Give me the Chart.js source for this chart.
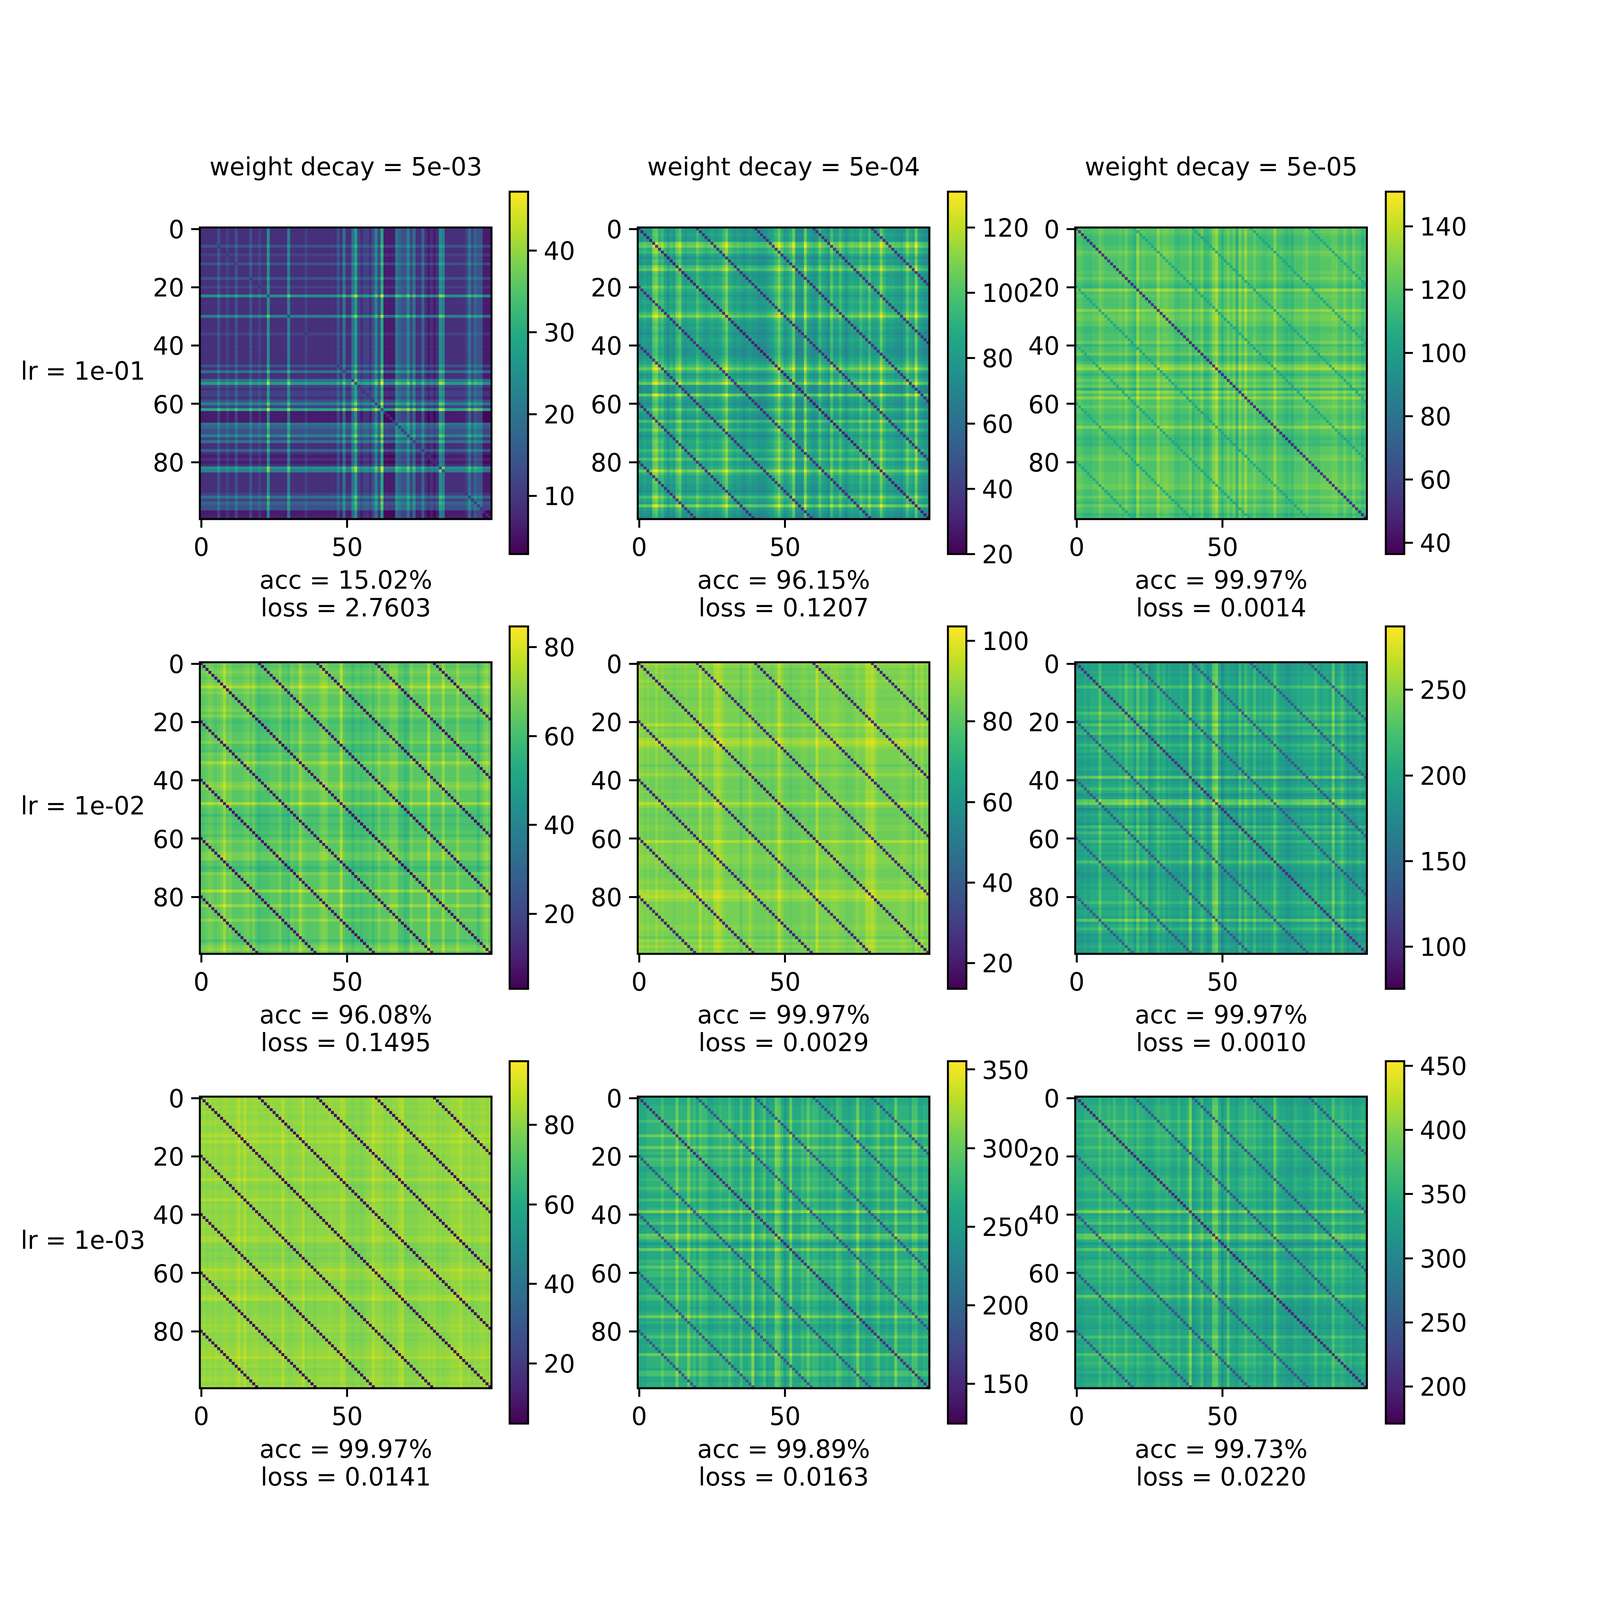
<!DOCTYPE html>
<html>
<head>
<meta charset="utf-8">
<script src="https://cdn.jsdelivr.net/npm/chart.js@4"></script>
<style>
html, body { margin: 0; padding: 0; background: #fff; width: 100%; height: 100%; overflow: hidden; }
canvas { position: absolute; }
.label { position: absolute; font-family: "DejaVu Sans"; line-height: 1; color: #000; white-space: pre; transform: translate(-50%, -50%); }
</style>
</head>
<body>
<script>
// cell levels per class (0 = dim, 9 = bright).
// the individual cells are too many to read one by one, so a cell = base + scale * (row level + column level)
const levels00 = [1,1,1,1,1,1,3,1,1,2, 1,1,3,1,1,1,1,3,1,1, 2,1,1,7,1,1,1,1,1,1, 6,1,1,1,1,1,2,1,1,1, 1,1,1,1,1,1,1,3,1,5, 1,1,5,8,2,1,2,2,1,3, 6,2,9,0,0,0,0,5,4,3, 3,6,2,5,1,1,4,1,0,1, 0,1,7,6,1,1,1,1,1,1, 1,2,5,2,4,3,3,0,0,0];
const levels01 = [2,2,3,2,2,8,9,5,6,3, 1,3,2,6,8,3,2,3,3,3, 6,4,3,2,3,4,3,3,4,6, 9,4,3,2,3,2,1,2,3,2, 2,1,1,1,2,3,4,6,9,5, 2,3,5,9,1,1,1,9,3,2, 1,2,6,3,2,1,7,3,3,6, 3,1,3,4,3,3,6,4,3,7, 3,3,4,9,5,3,3,3,2,2, 1,3,7,4,3,9,3,2,1,0];
const levels02 = [4,5,4,3,3,3,4,4,6,5, 4,4,4,4,4,5,4,6,4,3, 2,8,4,5,4,4,4,4,8,5, 6,6,5,5,3,3,4,4,4,6, 2,4,4,6,2,2,4,7,9,4, 2,4,6,4,6,1,7,4,8,4, 4,6,4,4,3,3,4,4,8,4, 4,3,2,3,2,4,4,4,5,6, 4,4,4,4,5,5,5,5,6,6, 4,4,6,4,3,6,4,4,2,3];
const levels10 = [4,4,5,6,5,4,5,6,9,5, 6,4,4,4,4,5,6,4,6,3, 2,3,3,3,4,4,4,6,3,3, 2,5,4,4,8,5,4,4,4,4, 4,6,7,6,4,4,4,4,9,4, 3,3,1,3,3,2,3,3,4,2, 4,6,4,4,4,6,6,6,3,3, 1,2,6,4,4,4,4,4,9,4, 4,4,4,8,4,4,4,4,7,4, 4,4,4,4,4,2,4,6,7,4];
const levels11 = [6,5,4,5,4,4,6,4,5,4, 4,4,3,4,4,4,5,4,4,4, 4,8,4,5,4,4,7,8,7,5, 4,4,4,4,4,2,4,4,6,4, 3,3,3,3,4,3,3,4,8,5, 3,3,2,3,3,3,4,4,3,3, 3,8,4,4,4,4,5,5,5,4, 4,3,3,3,4,5,4,4,7,7, 8,6,4,4,4,4,4,4,4,4, 5,5,4,4,2,6,4,6,4,4];
const levels12 = [3,3,3,4,3,4,4,4,7,4, 4,4,4,4,4,5,4,7,5,5, 3,7,4,5,6,2,3,4,6,4, 5,3,4,3,3,3,4,3,3,8, 2,3,4,6,4,2,3,8,9,4, 1,3,4,3,3,2,6,3,6,4, 3,6,3,4,3,4,3,4,7,4, 3,3,2,2,3,3,4,3,4,4, 4,4,6,4,3,4,4,3,8,3, 4,6,4,2,3,2,3,4,3,3];
const levels20 = [4,5,4,5,4,5,4,4,5,5, 4,4,5,7,4,7,4,4,5,5, 4,4,4,4,5,4,4,4,7,4, 3,3,4,4,4,7,3,4,4,3, 4,4,4,4,5,4,4,4,6,6, 3,3,2,3,3,2,3,4,4,7, 5,5,5,3,4,3,4,4,6,7, 3,3,3,3,3,4,4,4,5,4, 5,3,4,3,4,4,5,5,5,7, 4,4,5,3,4,4,5,5,4,5];
const levels21 = [3,3,3,4,4,4,4,4,6,4, 4,4,4,8,4,4,4,8,4,5, 3,6,5,5,3,3,4,4,5,4, 4,6,4,3,3,6,3,3,4,9, 2,3,4,6,2,3,3,8,7,4, 1,3,8,3,3,3,5,4,7,4, 5,5,3,4,3,3,4,3,6,5, 3,3,2,3,4,8,3,4,2,2, 3,4,6,3,3,4,3,3,8,4, 4,4,4,3,6,6,3,3,4,3];
const levels22 = [3,3,3,4,4,4,4,4,6,4, 4,5,4,6,4,4,4,6,4,4, 3,5,4,4,3,3,3,4,5,4, 4,5,4,3,3,5,3,3,4,9, 2,3,4,6,2,3,3,8,8,4, 1,3,7,3,3,2,4,4,6,4, 4,5,3,4,3,2,3,3,8,4, 3,3,2,2,2,4,3,3,2,2, 3,3,6,3,3,4,3,3,7,4, 4,5,4,3,4,2,3,3,4,3];
const panelLevels = [levels00, levels01, levels02, levels10, levels11, levels12, levels20, levels21, levels22];

const cellBase = [3.5, 63, 94, 48, 70.6, 145, 69, 212, 278];
const cellScale = [2.6, 3.6, 3, 1.9, 1.8, 7.5, 1.4, 7.5, 9];
const mainDiag = [8, 27, 50, 4, 18, 100, 4, 150, 195];
const stepDiag = [null, 33, 102, 5, 20, 130, 5, 180, 240]; // the diagonals 20 apart

const vmins = [2.9, 20, 36.4, 3.2, 13.6, 75.5, 4.9, 124.6, 171];
const vmaxs = [47.2, 131, 151, 84.6, 103.6, 287, 96, 355.3, 453.7];
const cbarTicks = [
    [10, 20, 30, 40], [20, 40, 60, 80, 100, 120], [40, 60, 80, 100, 120, 140],
    [20, 40, 60, 80], [20, 40, 60, 80, 100], [100, 150, 200, 250],
    [20, 40, 60, 80], [150, 200, 250, 300, 350], [200, 250, 300, 350, 400, 450]
];
const xTicks = [0, 50];
const yTicks = [0, 20, 40, 60, 80];

const colTitles = ['weight decay = 5e-03', 'weight decay = 5e-04', 'weight decay = 5e-05'];
const rowTitles = ['lr = 1e-01', 'lr = 1e-02', 'lr = 1e-03'];
const accLabels = ['15.02', '96.15', '99.97', '96.08', '99.97', '99.97', '99.97', '99.89', '99.73'];
const lossLabels = ['2.7603', '0.1207', '0.0014', '0.1495', '0.0029', '0.0010', '0.0141', '0.0163', '0.0220'];

// viridis
const viridis = ['#440154', '#482576', '#414487', '#355f8d', '#2a788e', '#21918c', '#22a884', '#44bf70', '#7ad151', '#bddf26', '#fde725'];

function hexToRgb(h) {
    return [parseInt(h.slice(1, 3), 16), parseInt(h.slice(3, 5), 16), parseInt(h.slice(5, 7), 16)];
}
function viridisColor(t) {
    t = Math.min(1, Math.max(0, t)) * (viridis.length - 1);
    const k = Math.min(viridis.length - 2, Math.floor(t));
    const a = hexToRgb(viridis[k]), b = hexToRgb(viridis[k + 1]), f = t - k;
    return 'rgb(' + a.map((v, n) => Math.round(v + (b[n] - v) * f)).join(',') + ')';
}

// layout is measured on the 4608 px reference, U maps it to the real window
const U = window.innerWidth / 4608;
const axLeft = [576, 1837, 3097];
const axTop = [655, 1907, 3158];
const axSize = 840;
const cbarLeft = [1468, 2730, 3991];
const cbarTop = [552, 1804, 3056];
const cbarW = 53, cbarH = 1044;
const lineW = 5.69 * U, tickLen = 24.9 * U, fontPx = 71.1 * U;
const M = 220, T = 60, R = 20, B = 170;
const font = { family: 'DejaVu Sans', size: fontPx };

Chart.defaults.animation = false;
Chart.defaults.responsive = false;

// top and right spines too
const frame = {
    id: 'frame',
    afterDraw(chart) {
        const a = chart.chartArea, c = chart.ctx;
        c.save();
        c.strokeStyle = '#000';
        c.lineWidth = lineW;
        c.strokeRect(a.left, a.top, a.right - a.left, a.bottom - a.top);
        c.restore();
    }
};

function addCanvas(left, top, w, h) {
    const cv = document.createElement('canvas');
    cv.width = Math.round(w * U);
    cv.height = Math.round(h * U);
    cv.style.left = Math.round(left * U) + 'px';
    cv.style.top = Math.round(top * U) + 'px';
    cv.style.width = cv.width + 'px';
    cv.style.height = cv.height + 'px';
    document.body.appendChild(cv);
    return cv;
}

function fixedAxis(ticks, size, labelShift, opts) {
    return Object.assign({
        type: 'linear',
        afterBuildTicks: axis => { axis.ticks = ticks.map(v => ({ value: v })); },
        afterFit: axis => {
            if (axis.isHorizontal()) axis.height = size * U; else axis.width = size * U;
            axis.paddingLeft = axis.paddingRight = axis.paddingTop = axis.paddingBottom = 0;
        },
        grid: { drawOnChartArea: false, drawTicks: true, tickLength: tickLen, tickWidth: lineW, tickColor: '#000' },
        border: { display: false },
        ticks: { color: '#000', font: font, padding: 20 * U, labelOffset: labelShift * U, maxRotation: 0, minRotation: 0, autoSkip: false, callback: v => String(v) }
    }, opts);
}

function drawHeatmap(p, left, top) {
    const levels = panelLevels[p];
    const points = [], colors = [];
    for (let i = 0; i < 100; i++) {
        for (let j = 0; j < 100; j++) {
            const sum = levels[i] + levels[j];
            let v = cellBase[p] + cellScale[p] * sum;
            if (i === j) v = mainDiag[p] + 0.15 * cellScale[p] * sum;
            else if (stepDiag[p] !== null && Math.abs(i - j) % 20 === 0) v = stepDiag[p] + 0.15 * cellScale[p] * sum;
            points.push({ x: j, y: i });
            colors.push(viridisColor((v - vmins[p]) / (vmaxs[p] - vmins[p])));
        }
    }
    const cv = addCanvas(left - M, top - T, M + axSize + R, T + axSize + B);
    new Chart(cv, {
        type: 'scatter',
        data: { datasets: [{ data: points, pointBackgroundColor: colors, pointBorderWidth: 0, pointRadius: 6.4 * U, pointStyle: 'rect', showLine: false }] },
        options: {
            devicePixelRatio: 1,
            events: [],
            layout: { padding: { top: T * U, right: R * U, left: 0, bottom: 0 } },
            plugins: { legend: { display: false }, tooltip: { enabled: false } },
            scales: {
                x: fixedAxis(xTicks, B, 0, { min: -0.5, max: 99.5 }),
                y: fixedAxis(yTicks, M, 8, { min: -0.5, max: 99.5, reverse: true })
            }
        },
        plugins: [frame]
    });
}

function drawColorbar(p, left, top) {
    const pad = 30, right = 260;
    const cv = addCanvas(left - pad, top - pad, pad + cbarW + right, pad + cbarH + pad);
    new Chart(cv, {
        type: 'bar',
        data: {
            labels: [''],
            datasets: [{
                data: [[vmins[p], vmaxs[p]]],
                barPercentage: 1,
                categoryPercentage: 1,
                borderSkipped: false,
                backgroundColor: c => {
                    const a = c.chart.chartArea;
                    if (!a) return '#000';
                    const g = c.chart.ctx.createLinearGradient(0, a.bottom, 0, a.top);
                    viridis.forEach((col, n) => g.addColorStop(n / (viridis.length - 1), col));
                    return g;
                }
            }]
        },
        options: {
            devicePixelRatio: 1,
            events: [],
            layout: { padding: { top: pad * U, left: pad * U, bottom: pad * U, right: 0 } },
            plugins: { legend: { display: false }, tooltip: { enabled: false } },
            scales: {
                x: { display: false },
                y: fixedAxis(cbarTicks[p], right, 8, { min: vmins[p], max: vmaxs[p], position: 'right' })
            }
        },
        plugins: [frame]
    });
}

function addLabel(text, cx, cy) {
    const d = document.createElement('div');
    d.className = 'label';
    d.textContent = text;
    d.style.fontSize = fontPx + 'px';
    d.style.left = cx * U + 'px';
    d.style.top = cy * U + 'px';
    document.body.appendChild(d);
}

for (let r = 0; r < 3; r++) {
    for (let c = 0; c < 3; c++) {
        const p = r * 3 + c;
        drawHeatmap(p, axLeft[c], axTop[r]);
        drawColorbar(p, cbarLeft[c], cbarTop[r]);
        const cx = axLeft[c] + axSize / 2;
        addLabel('acc = ' + accLabels[p] + '%', cx, axTop[r] + 1017);
        addLabel('loss = ' + lossLabels[p], cx, axTop[r] + 1097);
    }
    addLabel(rowTitles[r], 239, axTop[r] + 415);
}
for (let c = 0; c < 3; c++) {
    addLabel(colTitles[c], axLeft[c] + axSize / 2, 482);
}
</script>
</body>
</html>
